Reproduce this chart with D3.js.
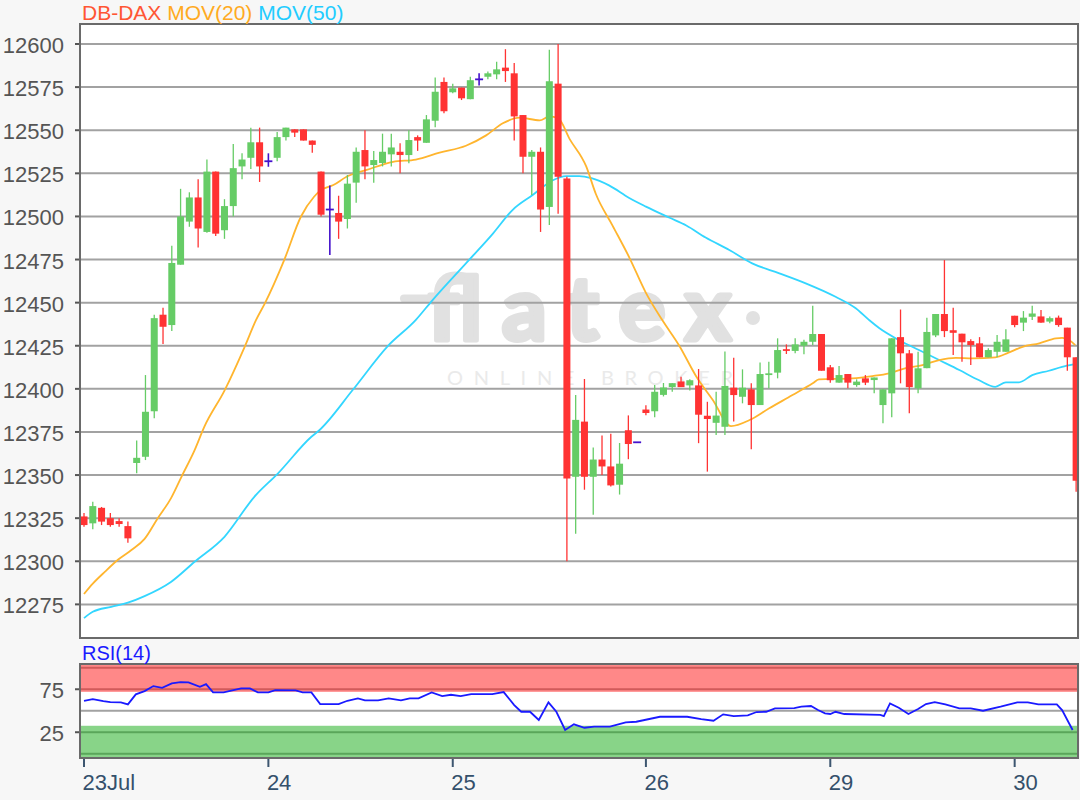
<!DOCTYPE html>
<html><head><meta charset="utf-8">
<script src="https://cdn.jsdelivr.net/npm/d3@7/dist/d3.min.js"></script>
<style>
html,body{margin:0;padding:0;background:#f7f7f7;}
svg{display:block;font-family:"Liberation Sans",Arial,sans-serif;}
</style></head>
<body>
<svg id="chart" width="1080" height="800"></svg>
<script>
// ---------- data ----------
const opens  = [12326,12322,12331,12325,12323.3,12320.4,12357,12360.6,12387,12443,12437,12472,12497,12511,12491,12526,12492,12506,12529,12534,12543,12532,12534,12546,12550.5,12550.5,12544,12526,12504,12502,12498.5,12519.6,12538.5,12529.8,12531,12536,12537.5,12535.6,12546,12542.7,12555.5,12578,12572,12574.7,12568,12579.5,12581,12582.4,12586.3,12583,12558.8,12534.6,12537.5,12505.5,12577,12522,12349,12381,12349,12359,12355,12344.4,12376,12369,12388,12387,12396.5,12401,12404.3,12402,12402,12384.4,12380.3,12378,12400.7,12395.4,12399.7,12390.6,12408,12409.4,12423,12422,12425,12427.3,12431.8,12412.5,12403.6,12408.6,12402.2,12406.1,12405.1,12390.6,12397.4,12430,12420.6,12400.3,12412,12431,12443.4,12434,12432,12427.7,12426.4,12418.3,12421.5,12421.5,12442.4,12438.4,12441.8,12442,12439,12441.3,12435.5,12418.3];
const highs  = [12328,12334.5,12331.5,12328,12325,12323,12370,12408,12443,12447,12483,12516,12514,12521.5,12533,12526,12510,12542,12536.6,12551.5,12551.5,12536.6,12549,12551.5,12550.5,12550.5,12544,12526,12518,12512,12524,12540,12550,12538,12548,12548,12542.4,12550,12547,12558.8,12580.5,12580.5,12577,12574.7,12581,12583,12584,12589.7,12597,12589,12558.8,12538.5,12540,12596.7,12600,12523,12396.5,12405.7,12366,12373,12374,12368.6,12384.6,12369,12390.5,12402.2,12403.4,12403.3,12407,12405.5,12411.5,12392.5,12398.3,12421.6,12418,12411.3,12403.2,12415.3,12415.7,12429.3,12425.8,12429.3,12428.5,12448.2,12431.8,12413.8,12413.2,12408.6,12405.5,12408,12406.6,12399.7,12429.3,12446,12422.5,12421.5,12441.3,12443.4,12474.7,12447,12432,12428.7,12430,12423.5,12431.2,12434.5,12442.4,12445.1,12448.2,12445.7,12442,12442.5,12435.5,12418.3];
const lows   = [12320,12318.5,12321,12320,12320,12310.7,12351,12358.7,12383,12426,12433.5,12472,12494,12482,12490.6,12488.6,12487,12500,12521.5,12527.5,12520,12528.8,12532,12544,12546,12544,12537,12500,12477.6,12487,12493,12508,12521.5,12519.6,12529,12529,12525,12530.8,12538,12542.7,12551.7,12559.8,12571.4,12567.5,12568,12576,12579.5,12579.5,12578,12544,12525,12512.4,12491,12495,12501.5,12300,12316,12341.5,12327,12350,12343.3,12338.7,12359.2,12369,12384.7,12383.6,12395.6,12398.3,12401,12399,12368.5,12352,12373.2,12373.2,12381,12391.6,12365,12390.6,12400.3,12406.1,12420.2,12420.6,12420,12425.4,12410.5,12403.6,12403.6,12400.3,12401.2,12402.2,12397.4,12380,12383.5,12403.2,12385.8,12397.4,12411.9,12430,12430,12419.6,12415.7,12413.8,12418.3,12418.3,12418.3,12421.5,12435.7,12433.5,12440,12438.4,12438,12436,12410.5,12340.3];
const closes = [12321,12332,12323,12321,12321.6,12313.3,12360,12386.7,12441,12436,12473,12500,12511,12493,12526,12490,12506,12528,12533,12543,12529,12532,12546,12551.5,12548.6,12544,12541.5,12501,12504,12497,12519,12537.5,12529,12532.7,12537.5,12540,12535.6,12544.3,12544,12556.3,12572.3,12561,12574.3,12568.5,12579,12579.5,12583,12585.3,12584.3,12558,12534.6,12537.5,12504,12578.4,12523,12348,12382,12349,12359,12355,12344,12356.6,12368,12369,12386,12398.3,12400.8,12403.3,12401,12405,12385,12382.5,12384.5,12401.7,12396.4,12400.7,12390.6,12408.6,12409,12422.5,12422,12425.8,12427.3,12431.8,12410.5,12405,12408,12403.6,12404.2,12403.6,12406.6,12399.7,12429.3,12420.6,12401,12411.9,12433,12443.4,12433.5,12432.5,12427,12425.4,12418.3,12422.5,12427.3,12428.7,12437,12441.3,12443.7,12438.4,12441,12437,12418.3,12346.7];

// moving averages: [candle position, value]
const mov20 = [[0,12281],[1,12287],[2.4,12294],[3.9,12301],[5.4,12306.5],[6.9,12313],[8.4,12325],[9.9,12336.5],[11.1,12349],[12.6,12364.5],[13.7,12378],[16,12399],[18.3,12424.4],[19.6,12440],[20.6,12449.6],[22.8,12474.7],[24.7,12499.8],[26.2,12511.4],[27,12515.3],[28.4,12518.2],[29.9,12523],[32.2,12527],[35.2,12531.7],[37.8,12533],[40.5,12537],[43.5,12541],[45.8,12547],[47.7,12554],[49.6,12557.3],[51.9,12555.7],[53,12558],[54,12557],[55.3,12545],[57.2,12529],[58.3,12513],[60.2,12494.7],[62.1,12476.3],[64,12455.7],[65.9,12439.6],[67.8,12425],[69.7,12407.5],[71.6,12393.7],[73.7,12378.4],[75.8,12381.9],[78,12388.6],[80.7,12396.4],[83,12403.2],[83.7,12405.5],[87.5,12406.1],[89.8,12407.4],[91.7,12409],[93.6,12412],[95.5,12413.8],[97.4,12416.7],[99.3,12418],[101.2,12417.7],[103.8,12418.3],[105.3,12421],[106.9,12424.4],[108.8,12426.4],[110.7,12429.3],[111.4,12429.6],[112.2,12428.3],[112.9,12425.4]];
const mov50 = [[0,12267],[1,12270.7],[3.1,12273.6],[5,12276],[6.9,12279.8],[9.9,12288],[12.6,12299.7],[16,12314.2],[19.4,12337.4],[22.1,12351],[25.9,12372.2],[26.8,12376],[30.6,12399.3],[34.6,12424.8],[37.8,12440],[39.7,12451.5],[43.5,12472.8],[46.6,12490.2],[48.8,12503.7],[51.1,12512.4],[53.4,12521],[54.9,12523.4],[56.4,12523.4],[57.8,12522.2],[59.8,12518],[62.1,12510.7],[64,12505.7],[66.7,12499.2],[68.6,12494.7],[70.8,12487.8],[73.5,12480.5],[76.1,12472.8],[79.2,12467],[82.2,12461.2],[85.6,12453.4],[87.9,12446.7],[89.4,12440],[90.6,12435.1],[92.8,12428.3],[95.1,12422.5],[97.4,12416.7],[99.7,12410.9],[101.9,12405.1],[103.8,12401.2],[105,12403.8],[106.5,12403.8],[108,12408],[109.9,12410.5],[111.4,12412.8],[112.7,12414.2]];

// RSI(14): [candle position, value]
const rsi14 = [[0,61.6],[1,63.6],[2.2,61.3],[3,60.1],[4.2,59.8],[5,57.4],[5.9,69.1],[6.9,72.9],[7.9,78.7],[8.9,76.7],[10,81.9],[11,83.4],[11.9,83],[13.2,77.9],[13.9,81],[14.7,71.4],[15.9,71.4],[17.9,76],[18.9,76],[19.8,71.4],[21,71.4],[21.8,74.1],[24.1,73.7],[24.9,71.4],[25.9,71.4],[26.9,57.8],[29,57.8],[30,61.6],[31.2,64.4],[32,62.1],[33.5,62.1],[34.7,64.4],[36.1,62.1],[37.1,64.4],[38.1,64.4],[39.6,71.4],[40.8,67.1],[41.8,68.6],[42.9,67.1],[44.1,69.4],[46.5,69.4],[47.8,71.7],[49,56.6],[49.8,48.8],[50.8,48.8],[51.8,39.2],[52.9,59.8],[53.8,48.8],[54.8,27.6],[55.8,34.2],[57,30.2],[58.1,31.4],[59.9,31.4],[61.7,36.5],[62.9,37.2],[65.6,43],[68.7,43],[70.3,40.3],[71.7,38.4],[72.8,45.8],[74,43.8],[75.6,44.7],[76.6,48.5],[77.7,48.8],[78.7,52.8],[80.9,53.1],[81.7,54.7],[82.8,55.5],[83.6,50.8],[84.4,47],[85,46.2],[85.6,48.8],[86.6,46.2],[90.7,45.3],[91.1,43.8],[91.8,58.6],[92.8,53.5],[93.9,46.2],[95,52],[95.9,57.8],[96.9,60.1],[98.1,57.4],[99.7,52.8],[101,52.8],[102.4,50],[104.4,54.7],[106.3,59.8],[107.5,59.8],[108.7,57.4],[110.8,57.4],[111.4,50.8],[112.6,27.6]];

const yTicks = [12275,12300,12325,12350,12375,12400,12425,12450,12475,12500,12525,12550,12575,12600];
const rsiGrid = [0,25,50,75,100];
const rsiLabels = [75,25];
const dayIdx = [0,21,42,64,85,106];
const dayLabels = ["23Jul","24","25","26","29","30"];

// ---------- layout ----------
const L = 80, R = 1078, T = 24, B = 638, RT = 664, RB = 758;
const svg = d3.select("#chart");
const x = d3.scaleLinear().domain([-0.456, 113.1]).range([L, R - 1]);
const y = d3.scaleLinear().domain([12255.5, 12611.6]).range([B, T]);
const ry = d3.scaleLinear().domain([-5, 104.4]).range([RB, RT]);

svg.append("rect").attr("width",1080).attr("height",800).attr("fill","#f7f7f7");
const defs = svg.append("defs");
defs.append("clipPath").attr("id","cp").append("rect").attr("x",L).attr("y",T).attr("width",R-L).attr("height",B-T);
defs.append("clipPath").attr("id","cpr").append("rect").attr("x",L).attr("y",RT).attr("width",R-L).attr("height",RB-RT);

// ---------- main panel ----------
svg.append("rect").attr("x",L).attr("y",T).attr("width",R-L).attr("height",B-T).attr("fill","#fff");

// watermark
const WM = "#e1e1e1";
svg.append("line").attr("x1",404).attr("x2",462).attr("y1",298.5).attr("y2",298.5)
  .attr("stroke",WM).attr("stroke-width",8).attr("stroke-linecap","round");
svg.append("text").attr("x",428).attr("y",340).attr("font-family","Lato, 'Open Sans', sans-serif")
  .attr("font-weight",700).attr("font-size",88).attr("fill",WM)
  .attr("stroke",WM).attr("stroke-width",5).attr("stroke-linejoin","round")
  .attr("textLength",303).attr("lengthAdjust","spacing").text("flatex");
svg.append("circle").attr("cx",753).attr("cy",318).attr("r",7).attr("fill",WM);
svg.append("text").attr("x",447).attr("y",385).attr("font-family","Lato, 'Open Sans', sans-serif")
  .attr("font-size",20).attr("fill","#eaeaea")
  .attr("textLength",286).attr("lengthAdjust","spacing").text("ONLINE BROKER");

// grid
svg.append("g").selectAll("line").data(yTicks).join("line")
  .attr("x1",L).attr("x2",R).attr("y1",d=>y(d)).attr("y2",d=>y(d))
  .attr("stroke","#a2a2a2").attr("stroke-width",2);
// y-axis ticks + labels
svg.append("g").selectAll("line").data(yTicks).join("line")
  .attr("x1",75).attr("x2",L).attr("y1",d=>y(d)).attr("y2",d=>y(d))
  .attr("stroke","#555").attr("stroke-width",2);
svg.append("g").selectAll("text").data(yTicks).join("text")
  .attr("x",64).attr("y",d=>y(d)+9).attr("text-anchor","end")
  .attr("font-size",22).attr("fill","#555").text(d=>d);

const plot = svg.append("g").attr("clip-path","url(#cp)");
const line = d3.line().x(d=>x(d[0])).y(d=>y(d[1])).curve(d3.curveMonotoneX);
plot.append("path").datum(mov50).attr("d",line).attr("fill","none").attr("stroke","#33d6ff").attr("stroke-width",1.8);
plot.append("path").datum(mov20).attr("d",line).attr("fill","none").attr("stroke","#ffb52e").attr("stroke-width",1.8);

// candles
const GREEN="#66cc66", RED="#ff3333", DOJI="#4411cc";
const candles = d3.range(opens.length).map(i=>({i,o:opens[i],h:highs[i],l:lows[i],c:closes[i]}));
const cg = plot.append("g");
candles.forEach(d=>{
  const cx = x(d.i);
  const col = d.c>d.o?GREEN:(d.c<d.o?RED:DOJI);
  if (d.h>d.l) cg.append("line").attr("x1",cx).attr("x2",cx).attr("y1",y(d.h)).attr("y2",y(d.l))
     .attr("stroke",col).attr("stroke-width",d.c===d.o?1.6:1.3);
  if (d.c===d.o){
    cg.append("line").attr("x1",cx-4).attr("x2",cx+4).attr("y1",y(d.o)).attr("y2",y(d.o))
      .attr("stroke",col).attr("stroke-width",1.8);
  } else {
    const top = y(Math.max(d.o,d.c)), bot = y(Math.min(d.o,d.c));
    cg.append("rect").attr("x",cx-3.5).attr("width",7).attr("y",top).attr("height",Math.max(1.5,bot-top)).attr("fill",col);
  }
});
svg.append("rect").attr("x",L).attr("y",T).attr("width",R-L).attr("height",B-T)
  .attr("fill","none").attr("stroke","#6a6a6a").attr("stroke-width",2);

// title
const title = svg.append("text").attr("x",82).attr("y",20).attr("font-size",21);
title.append("tspan").attr("fill","#ff5533").text("DB-DAX ");
title.append("tspan").attr("fill","#ffaa22").text("MOV(20) ");
title.append("tspan").attr("fill","#22ccff").text("MOV(50)");

// ---------- RSI panel ----------
svg.append("rect").attr("x",L).attr("y",RT).attr("width",R-L).attr("height",RB-RT).attr("fill","#fff");
svg.append("g").selectAll("line").data(rsiGrid).join("line")
  .attr("x1",L).attr("x2",R).attr("y1",d=>ry(d)).attr("y2",d=>ry(d))
  .attr("stroke","#a2a2a2").attr("stroke-width",2);
const rg = svg.append("g").attr("clip-path","url(#cpr)");
rg.append("rect").attr("x",L).attr("width",R-L).attr("y",ry(104.4)).attr("height",ry(72)-ry(104.4))
  .attr("fill","#ff1111").attr("fill-opacity",0.5);
rg.append("rect").attr("x",L).attr("width",R-L).attr("y",ry(32.5)).attr("height",ry(-5)-ry(32.5))
  .attr("fill","#11aa11").attr("fill-opacity",0.5);
rg.append("path").datum(rsi14)
  .attr("d",d3.line().x(d=>x(d[0])).y(d=>ry(d[1])))
  .attr("fill","none").attr("stroke","#1a1aff").attr("stroke-width",1.8);
svg.append("g").selectAll("line").data(rsiLabels).join("line")
  .attr("x1",75).attr("x2",L).attr("y1",d=>ry(d)).attr("y2",d=>ry(d))
  .attr("stroke","#555").attr("stroke-width",2);
svg.append("g").selectAll("text").data(rsiLabels).join("text")
  .attr("x",64).attr("y",d=>ry(d)+8.5).attr("text-anchor","end")
  .attr("font-size",22).attr("fill","#555").text(d=>d);
svg.append("rect").attr("x",L).attr("y",RT).attr("width",R-L).attr("height",RB-RT)
  .attr("fill","none").attr("stroke","#6a6a6a").attr("stroke-width",2);
svg.append("text").attr("x",82).attr("y",660).attr("font-size",20).attr("fill","#1a1aff").text("RSI(14)");

// x axis
svg.append("g").selectAll("line").data(dayIdx).join("line")
  .attr("x1",d=>x(d)).attr("x2",d=>x(d)).attr("y1",RB+1).attr("y2",767)
  .attr("stroke","#3d5670").attr("stroke-width",2);
svg.append("g").selectAll("text").data(dayIdx).join("text")
  .attr("x",d=>x(d)-1.5).attr("y",790).attr("font-size",22).attr("fill","#34506b")
  .text((d,k)=>dayLabels[k]);
</script>
</body></html>
